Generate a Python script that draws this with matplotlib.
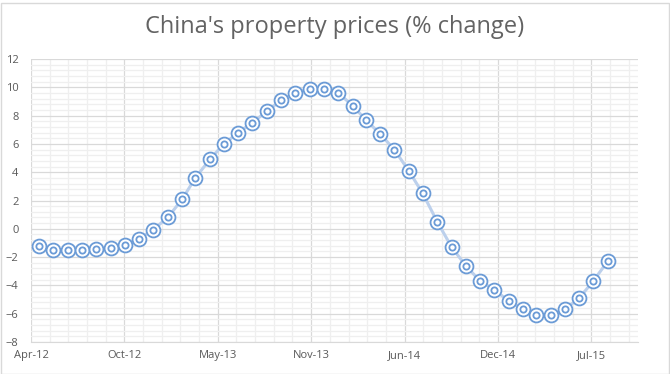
import numpy as np
import pandas as pd
import matplotlib
matplotlib.use("Agg")
import matplotlib.pyplot as plt
import matplotlib.dates as mdates
from matplotlib.patches import Rectangle

# monthly year-on-year change, Apr-2012 .. Aug-2015
months = pd.date_range("2012-04-01", "2015-08-01", freq="MS") + pd.Timedelta(days=18)
values = [-1.2, -1.5, -1.5, -1.5, -1.4, -1.35, -1.15, -0.7, -0.05, 0.8,
          2.1, 3.6, 4.9, 6.0, 6.8, 7.5, 8.3, 9.1, 9.6, 9.9,
          9.9, 9.6, 8.7, 7.7, 6.7, 5.6, 4.1, 2.5, 0.5, -1.3,
          -2.6, -3.7, -4.3, -5.1, -5.7, -6.1, -6.1, -5.7, -4.9, -3.7,
          -2.3]
title = "China's property prices (% change)"

x0 = pd.Timestamp("2012-04-01")
xticks = [x0 + pd.Timedelta(days=200 * i) for i in range(7)]
xminor = [x0 + pd.Timedelta(days=40 * i) for i in range(33)]

plt.rcParams['font.family'] = ['Open Sans', 'DejaVu Sans']

fig = plt.figure(figsize=(6.7, 3.74), dpi=100)
ax = fig.add_axes([31 / 670, 1 - 342 / 374, (638 - 31) / 670, (342 - 59) / 374])

grid_major = '#d9d9d9'
grid_minor = '#efefef'
txt = '#595959'

ax.set_xlim(x0, x0 + pd.Timedelta(days=1300))
ax.set_ylim(-8, 12)
ax.set_yticks(np.arange(-8, 13, 2))
ax.set_yticks(np.arange(-8, 12.01, 0.4), minor=True)
ax.set_xticks(xticks)
ax.set_xticks(xminor, minor=True)
ax.xaxis.set_major_formatter(mdates.DateFormatter('%b-%y'))

ax.grid(which='minor', color=grid_minor, lw=0.9)
ax.grid(which='major', color=grid_major, lw=0.9)
ax.set_axisbelow(True)
for s in ax.spines.values():
    s.set_visible(False)
ax.spines['bottom'].set_visible(True)
ax.spines['bottom'].set_color(grid_major)
ax.tick_params(which='both', length=0, colors=txt, labelsize=8)
ax.tick_params(axis='y', pad=9)
ax.tick_params(axis='x', pad=6)

ax.plot(months, values, color='#bcd0ec', lw=2.2, zorder=2)
ax.plot(months, values, ls='none', marker='o', ms=10, mfc='white',
        mec='#6b9bd6', mew=1.3, zorder=3)
ax.plot(months, values, ls='none', marker='o', ms=4.5, mfc='white',
        mec='#6b9bd6', mew=1.3, zorder=4)

fig.text(0.5, 1 - 27 / 374, title, ha='center', va='center',
         fontsize=17, color='#636363')

fig.patches.append(Rectangle((0.5 / 670, 0.5 / 374), 668 / 670, 371 / 374,
                             transform=fig.transFigure, fill=False,
                             ec='#d9d9d9', lw=1))

fig.savefig("out.png", dpi=100)
